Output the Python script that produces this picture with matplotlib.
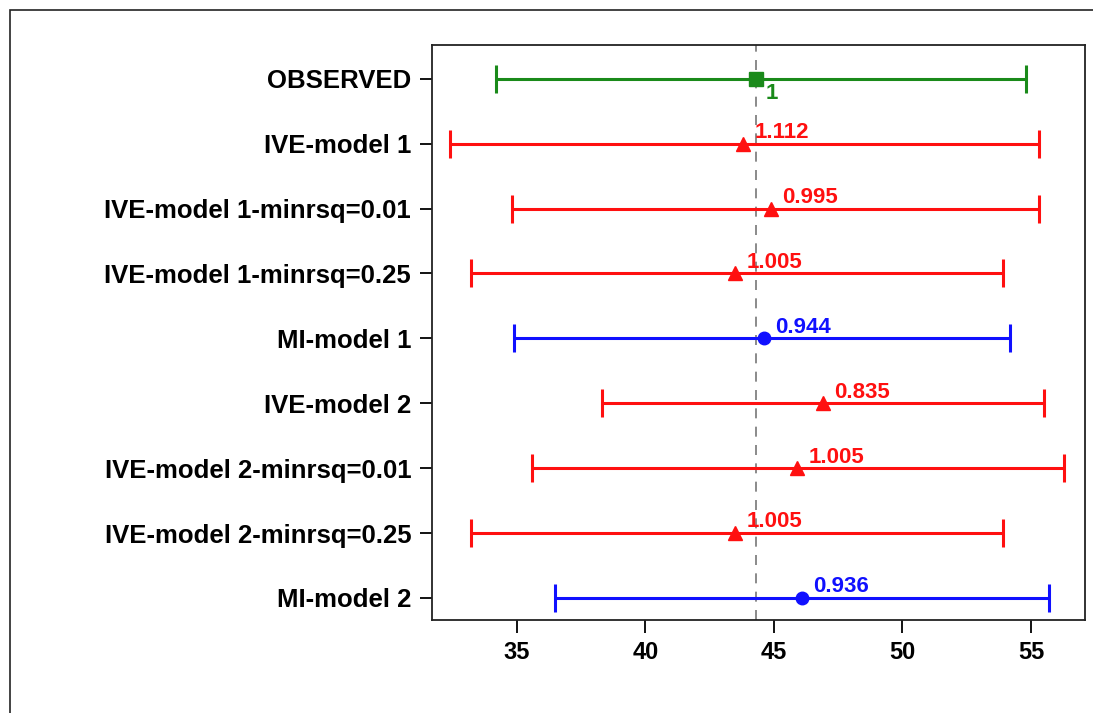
import matplotlib.pyplot as plt
import matplotlib.patches as mpatches

plt.rcParams['font.family'] = ['Liberation Sans', 'DejaVu Sans']
plt.rcParams['font.weight'] = 'bold'

labels = ['OBSERVED', 'IVE-model 1', 'IVE-model 1-minrsq=0.01', 'IVE-model 1-minrsq=0.25',
          'MI-model 1', 'IVE-model 2', 'IVE-model 2-minrsq=0.01', 'IVE-model 2-minrsq=0.25',
          'MI-model 2']
est = [44.3, 43.8, 44.9, 43.5, 44.6, 46.9, 45.9, 43.5, 46.1]
lower = [34.2, 32.4, 34.8, 33.2, 34.9, 38.3, 35.6, 33.2, 36.5]
upper = [54.8, 55.3, 55.3, 53.9, 54.2, 55.5, 56.3, 53.9, 55.7]
ratio = ['1', '1.112', '0.995', '1.005', '0.944', '0.835', '1.005', '1.005', '0.936']
group = ['obs', 'ive', 'ive', 'ive', 'mi', 'ive', 'ive', 'ive', 'mi']
ref_line = 44.3

styles = {'obs': ('#1a8a1a', 's'), 'ive': ('#ff1010', '^'), 'mi': ('#1010ff', 'o')}

fig = plt.figure(figsize=(10.93, 7.13), dpi=100)
ax = fig.add_axes([432 / 1093, 1 - 620 / 713, (1085 - 432) / 1093, (620 - 45) / 713])

for i in range(len(labels)):
    col, mk = styles[group[i]]
    ax.errorbar(est[i], i, xerr=[[est[i] - lower[i]], [upper[i] - est[i]]], fmt=mk,
                color=col, ms=9.5 if mk != 'o' else 9, lw=2.2, capsize=10, capthick=2.2)
    if group[i] == 'obs':
        ax.annotate(ratio[i], (est[i], i), xytext=(7, -3), textcoords='offset points',
                    color=col, fontsize=16, fontweight='bold', ha='left', va='top')
    else:
        ax.annotate(ratio[i], (est[i], i), xytext=(8, 4), textcoords='offset points',
                    color=col, fontsize=16, fontweight='bold', ha='left', va='baseline')

ax.axvline(ref_line, color='#777777', lw=1.2, ls=(0, (6, 5)), zorder=0)

ax.set_xlim(31.7, 57.1)
ax.set_ylim(8.34, -0.52)
ax.set_yticks(range(len(labels)))
ax.set_yticklabels(labels, fontsize=18.5)
ax.set_xticks([35, 40, 45, 50, 55])
ax.tick_params(axis='both', length=9, width=1.3, pad=6)
ax.tick_params(axis='x', labelsize=17, pad=6)
for sp in ax.spines.values():
    sp.set_linewidth(1.3)
    sp.set_color('#222222')

fig.patches.append(mpatches.Rectangle((10 / 1093, -0.1), 1.2, 1 - 10 / 713 + 0.1,
                                      transform=fig.transFigure, fill=False,
                                      edgecolor='#222222', lw=1.2))

fig.savefig('out.png', dpi=100)
